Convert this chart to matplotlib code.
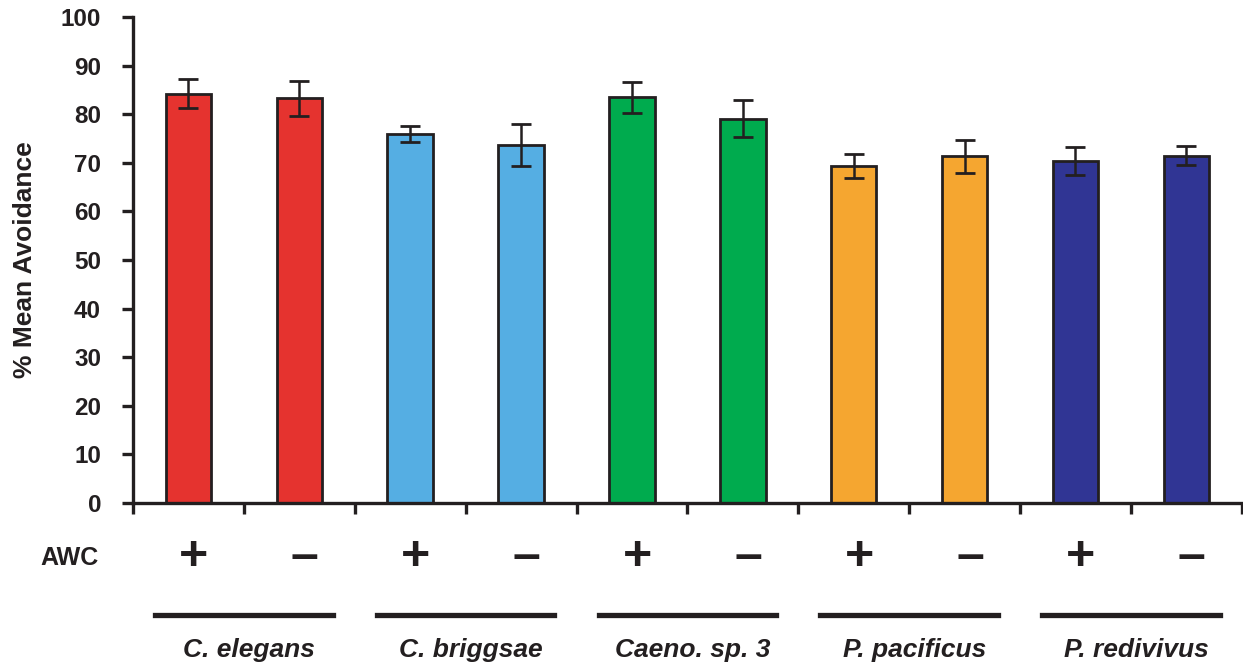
import matplotlib
matplotlib.use('Agg')
import matplotlib.pyplot as plt
from matplotlib.lines import Line2D

# data
species = ['C. elegans', 'C. briggsae', 'Caeno. sp. 3', 'P. pacificus', 'P. redivivus']
awc = ['+', '–', '+', '–', '+', '–', '+', '–', '+', '–']
avoidance = [84.2, 83.3, 75.9, 73.7, 83.5, 79.1, 69.4, 71.3, 70.3, 71.5]
errors = [3.0, 3.6, 1.7, 4.3, 3.2, 3.8, 2.5, 3.4, 2.9, 2.0]
colors = ['#e5332f', '#55aee3', '#00ab4e', '#f5a630', '#303594']

ink = '#231f20'
plt.rcParams['font.family'] = ['Liberation Sans', 'DejaVu Sans']

fig = plt.figure(figsize=(12.43, 6.72), dpi=100)
ax = fig.add_axes([0.107, 0.2515, 0.892, 0.7232])

x = [i + 0.5 for i in range(len(avoidance))]
bar_colors = [colors[i // 2] for i in range(len(avoidance))]
ax.bar(x, avoidance, width=0.41, color=bar_colors, edgecolor=ink, linewidth=2.0, zorder=2)
ax.errorbar(x, avoidance, yerr=errors, fmt='none', ecolor=ink, elinewidth=1.8,
            capsize=7.2, capthick=2.0, zorder=3)

ax.set_xlim(0, 10)
ax.set_ylim(0, 100)
ax.set_yticks(range(0, 101, 10))
ax.set_xticks(range(0, 11))
ax.set_xticklabels([])
for lab in ax.get_yticklabels():
    lab.set_fontweight('bold')
ax.tick_params(axis='y', length=8, width=2.4, color=ink, labelsize=17.5, labelcolor=ink, pad=15)
ax.tick_params(axis='x', length=8, width=2.4, color=ink)
for s in ['top', 'right']:
    ax.spines[s].set_visible(False)
for s in ['left', 'bottom']:
    ax.spines[s].set_linewidth(2.4)
    ax.spines[s].set_color(ink)
ax.set_ylabel('% Mean Avoidance', fontsize=19, fontweight='bold', color=ink, labelpad=17)

tr = ax.get_xaxis_transform()
for xi, sign in zip(x, awc):
    ax.text(xi + 0.05, -0.112, sign, transform=tr, ha='center', va='center',
            fontsize=36, fontweight='bold', color=ink, clip_on=False)
fig.text(0.056, 1 - 558 / 672, 'AWC', ha='center', va='center', fontsize=18,
         fontweight='bold', color=ink)

for g, name in enumerate(species):
    c = 2 * g + 1
    ax.add_line(Line2D([c - 0.8, c + 0.8], [-0.23, -0.23], transform=tr,
                       color=ink, linewidth=3.8, clip_on=False))
    ax.text(c + 0.05, -0.302, name, transform=tr, ha='center', va='center',
            fontsize=19, fontweight='bold', fontstyle='italic', color=ink)

fig.savefig('out.png', dpi=100)
